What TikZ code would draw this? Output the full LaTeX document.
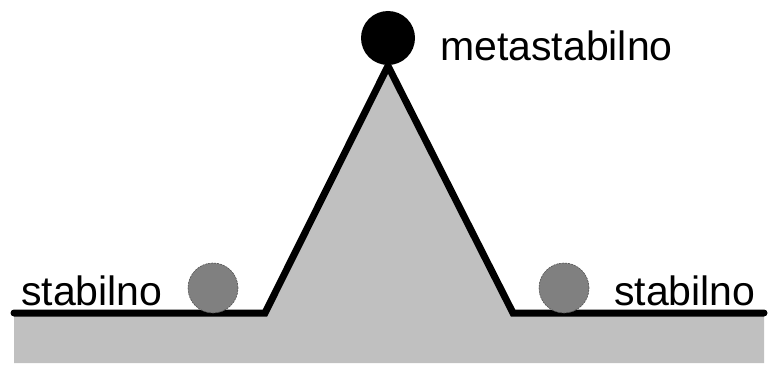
\documentclass[tikz,border=0pt]{standalone}
\usepackage{fontspec}
\setmainfont{Liberation Sans}
\usetikzlibrary{positioning,calc}
\definecolor{slopegrey}{HTML}{C0C0C0}
\definecolor{ballgrey}{HTML}{808080}
\definecolor{rimgrey}{HTML}{505050}

\begin{document}
\begin{tikzpicture}[
  x=1pt, y=-1pt,
  ground/.style={fill=slopegrey, draw=none},
  track/.style={line width=7pt, line cap=round, line join=miter},
  restball/.style={circle, fill=ballgrey, draw=rimgrey, line width=0.6pt,
                   dash pattern=on 2pt off 1pt, minimum size=50pt, inner sep=0pt},
  topball/.style={circle, fill=black, minimum size=54pt, inner sep=0pt},
  lbl/.style={font=\fontsize{41}{49}\selectfont, inner sep=0pt},
]
\useasboundingbox (0,0) rectangle (772,369);

% ---------------- profile ------------------------------------------
\coordinate (left)  at (14,313);
\coordinate (footl) at (265,313);
\coordinate (apex)  at (388,66);
\coordinate (footr) at (513,313);
\coordinate (right) at (764,313);

\fill[ground] (left) -- (footl) -- (apex) -- (footr) -- (right)
  -- (764,363) -- (14,363) -- cycle;
\draw[track] (left) -- (footl) -- (apex) -- (footr) -- (right);

% ---------------- balls --------------------------------------------
\node[topball] (meta) at (388,38) {};
\node[restball] (stl) at (213,288) {};
\node[restball] (str) at (564,288) {};

% ---------------- labels -------------------------------------------
\node[lbl, anchor=base west] (lmeta) at (440,61) {metastabilno};
\node[lbl, anchor=base west] (lstl) at (21,305) {stabilno};
\node[lbl, anchor=base west] (lstr) at (614,305) {stabilno};

\end{tikzpicture}
\end{document}
